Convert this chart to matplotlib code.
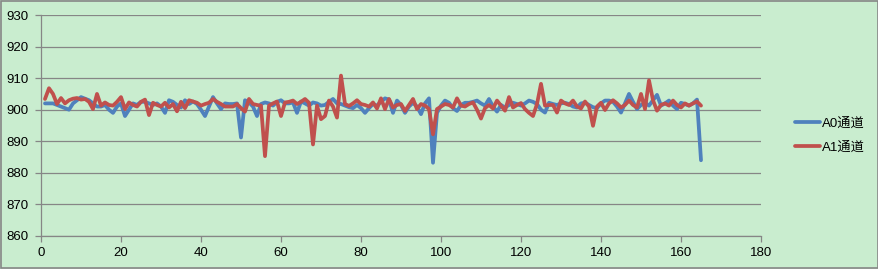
import matplotlib
matplotlib.use("Agg")
import matplotlib.pyplot as plt
from matplotlib.patches import Rectangle

plt.rcParams['font.family'] = ['Liberation Sans', 'Noto Sans CJK SC', 'DejaVu Sans']

a0 = [
    902, 902, 902, 901.5, 901, 900.5, 900, 902, 903, 904,
    903.5, 903, 902, 901, 901, 901.5, 900, 899, 901, 902,
    898, 900, 902, 901.5, 902.5, 902.5, 902, 901.5, 902, 901,
    899, 903, 902.5, 901.5, 900.7, 903, 901.8, 902.6, 901.8, 900,
    898, 901, 904, 902, 900.2, 902, 901.8, 901.8, 902, 891.2,
    903, 902.3, 901, 898, 901.8, 902.3, 902, 901.3, 902.5, 903,
    902, 902, 902.3, 899, 902.6, 902, 901.3, 902.3, 902, 901.3,
    901.5, 902.5, 903.4, 902, 901.8, 901.3, 900.8, 900.5, 901.5, 900.5,
    899, 900.5, 901.8, 901.3, 902.5, 903.6, 903.2, 899, 902.9, 901.5,
    899, 901, 902.2, 901, 898.6, 902, 903.6, 883.2, 899, 901.3,
    902.9, 902.2, 900.5, 899.6, 901.5, 902.2, 902.2, 902.5, 902.9, 902,
    901.3, 903.4, 901, 899.4, 901.5, 900.7, 901.5, 902.2, 901.8, 901.3,
    902, 902.9, 902.5, 901.8, 900, 899.1, 902.2, 901.8, 901.5, 902,
    902.2, 901.8, 901, 900.7, 902, 902.2, 901.5, 900.8, 900.5, 902,
    902.9, 902.9, 902.5, 901, 899.1, 902, 905, 902.5, 900.2, 901.5,
    902.2, 901.3, 903, 904.7, 901.3, 902, 902.9, 901.3, 900.2, 902.2,
    901.8, 901.3, 902, 903.2, 884,
]

a1 = [
    903.4, 906.8, 905, 901.8, 903.7, 902, 903, 903.5, 903.7, 903.2,
    903.4, 902.5, 900.2, 905, 901.3, 902.3, 901.5, 901.3, 902.5, 904,
    900.2, 902.3, 901.5, 901, 902.5, 903.2, 898.3, 902.2, 901.5, 901,
    902.2, 900.7, 901.8, 899.5, 902.5, 900.5, 903, 902.6, 902.2, 901.3,
    901.8, 902.2, 903.4, 902.5, 901.8, 901, 901, 901, 901.8, 900.5,
    899.4, 903.4, 901.8, 901.5, 901.3, 885.3, 901.3, 902, 902.6, 898,
    902.3, 902.5, 902.9, 901.8, 902.5, 903.4, 902.2, 889, 901.3, 897,
    898, 902.9, 901, 897.5, 910.8, 901.8, 901.2, 902, 903, 901.8,
    901.5, 901, 902.3, 900.4, 903.6, 900.2, 903.4, 900.7, 901.5, 901.8,
    899.6, 901.5, 903.4, 900.2, 901.8, 901.3, 900.2, 892.2, 900.2, 901,
    901.8, 901.5, 900.7, 903.6, 901.3, 901, 901.8, 902.3, 900, 897.2,
    900.5, 901.5, 900.4, 902.9, 901.3, 899.7, 904, 900.7, 901.5, 902.1,
    900.2, 899, 898, 901.8, 908.2, 901.3, 901.5, 901.5, 899.1, 902.9,
    902, 901.5, 902.9, 901, 900.4, 902.6, 901, 894.9, 901, 902.2,
    899.9, 902, 903, 902, 900.7, 901.5, 902.9, 901.5, 900.7, 905,
    900.2, 909.3, 903, 899.7, 901.5, 902, 901.3, 902.9, 901.5, 900.7,
    902, 901.3, 902, 902.6, 901.3,
]

x = list(range(1, len(a0) + 1))
labels = ['A0通道', 'A1通道']
xticks = list(range(0, 181, 20))
yticks = list(range(860, 931, 10))

bg = '#C9EDCF'
grid_c = '#868686'

fig = plt.figure(figsize=(8.79, 2.69), dpi=100, facecolor=bg)
ax = fig.add_axes([41/879, 1-236/269, 720/879, 221/269])
ax.set_facecolor(bg)

ax.plot(x, a0, color='#4F81BD', lw=2.7, label=labels[0], solid_joinstyle='round', solid_capstyle='round')
ax.plot(x, a1, color='#C0504D', lw=2.7, label=labels[1], solid_joinstyle='round', solid_capstyle='round')

ax.set_xlim(0, 180)
ax.set_ylim(860, 930)
ax.set_xticks(xticks)
ax.set_yticks(yticks)
ax.yaxis.grid(True, color=grid_c, lw=0.9)
ax.set_axisbelow(True)
for s in ['top', 'right']:
    ax.spines[s].set_visible(False)
for s in ['left', 'bottom']:
    ax.spines[s].set_color(grid_c)
    ax.spines[s].set_linewidth(0.9)
ax.tick_params(axis='both', direction='out', length=4, color=grid_c, width=0.9,
               labelsize=9.5, labelcolor='#000000')
ax.tick_params(axis='y', pad=5)
ax.tick_params(axis='x', pad=4)

leg = fig.legend(loc='center left', bbox_to_anchor=(0.904, 0.497), bbox_transform=fig.transFigure,
                 frameon=False, fontsize=9.5, handlelength=1.9, handletextpad=0.15,
                 labelspacing=0.9, borderpad=0, borderaxespad=0)
for t in leg.get_texts():
    t.set_fontfamily(['Liberation Sans', 'Noto Sans CJK SC'])

fig.patches.append(Rectangle((0.0006, 0.002), 0.9988, 0.995, transform=fig.transFigure,
                             fill=False, edgecolor='#868686', lw=1.2))

fig.savefig('out.png', dpi=100, facecolor=bg)
